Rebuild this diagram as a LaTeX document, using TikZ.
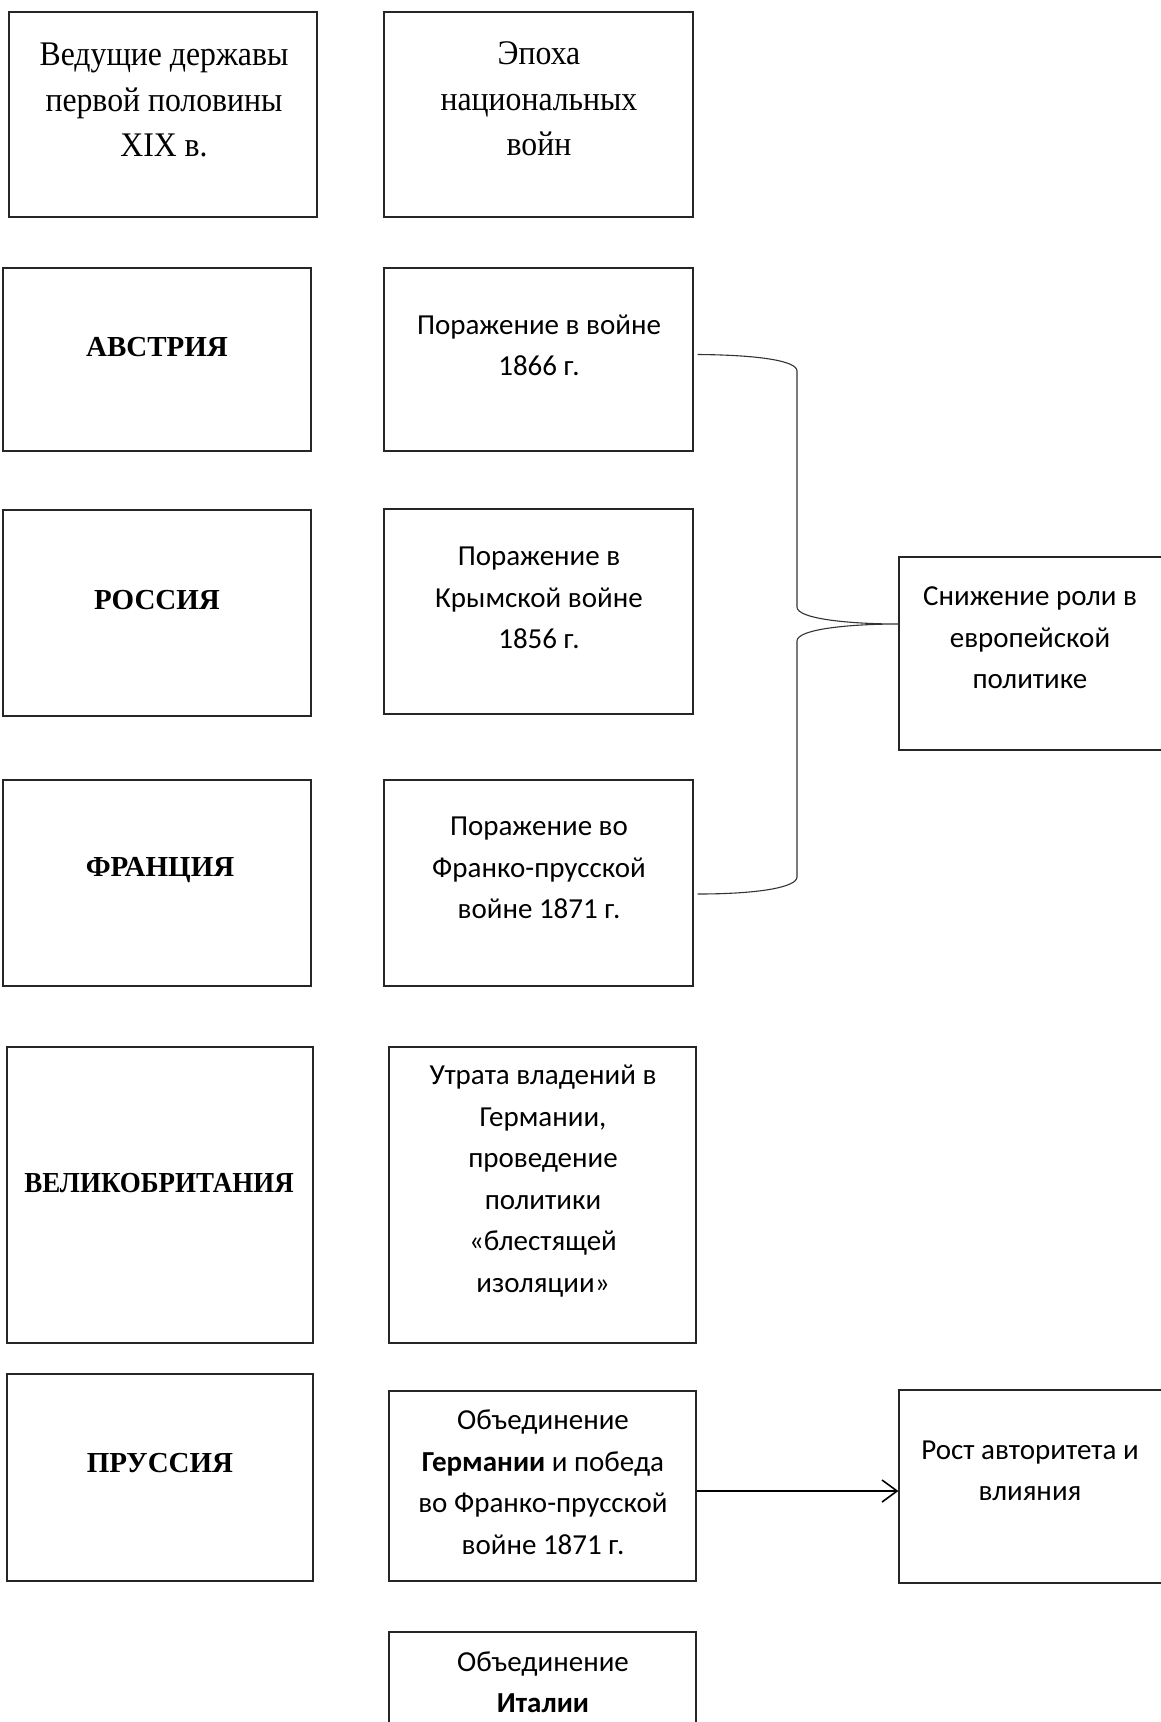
\documentclass[tikz,border=0pt]{standalone}
\usepackage{fontspec}
\setmainfont{Liberation Serif}
\newfontfamily\calfont{Carlito}
\newfontfamily\headfont[FakeStretch=0.92]{Liberation Serif}
\usetikzlibrary{fit,arrows.meta}
\tikzset{
  box/.style={draw=black!85, line width=1.2pt, inner sep=0pt, fill=none},
  ser/.style={font=\headfont\fontsize{34.5}{45.5}\selectfont, align=center, inner sep=0pt},
  serb/.style={font=\fontsize{29}{34}\selectfont\bfseries, align=center, inner sep=0pt},
  cal/.style={font=\fontsize{29}{41.5}\selectfont\calfont, align=center, inner sep=0pt},
  brace/.style={draw=black!80, line width=1.1pt},
  arr/.style={draw=black, line width=1.6pt, -{Straight Barb[length=15pt,width=22pt,line width=1.6pt]}}
}
\begin{document}
\begin{tikzpicture}[x=1pt,y=-1pt]
\useasboundingbox (0,0) rectangle (1160,1722);
% boxes
\node[box, fit={(9,12) (317,217)}] (h1) {};
\node[box, fit={(384,12) (693,217)}] (h2) {};
\node[box, fit={(3,268) (311,451)}] (a1) {};
\node[box, fit={(384,268) (693,451)}] (a2) {};
\node[box, fit={(3,510) (311,716)}] (r1) {};
\node[box, fit={(384,509) (693,714)}] (r2) {};
\node[box, fit={(3,780) (311,986)}] (f1) {};
\node[box, fit={(384,780) (693,986)}] (f2) {};
\node[box, fit={(7,1047) (313,1343)}] (g1) {};
\node[box, fit={(389,1047) (696,1343)}] (g2) {};
\node[box, fit={(7,1374) (313,1581)}] (p1) {};
\node[box, fit={(389,1391) (696,1581)}] (p2) {};
\node[box, fit={(899,557) (1200,750)}] (s) {};
\node[box, fit={(899,1390) (1200,1583)}] (rost) {};
\node[box, fit={(389,1632) (696,1770)}] (it) {};
% texts
\node[ser] (th1) at (164,100) {Ведущие державы\\первой половины\\XIX в.};
\node[ser] (th2) at (539,99) {Эпоха\\национальных\\войн};
\node[serb] (ta1) at (157,347) {АВСТРИЯ};
\node[serb] (tr1) at (157,600) {РОССИЯ};
\node[serb] (tf1) at (160,870) {ФРАНЦИЯ};
\node[serb] (tg1) at (159,1183) {\scalebox{0.93}[1]{ВЕЛИКОБРИТАНИЯ}};
\node[serb] (tp1) at (160,1463) {ПРУССИЯ};
\node[cal] (ta2) at (539,345.5) {Поражение в войне\\1866 г.};
\node[cal] (tr2) at (539,598) {Поражение в\\Крымской войне\\1856 г.};
\node[cal] (tf2) at (539,868) {Поражение во\\Франко-прусской\\войне 1871 г.};
\node[cal] (tg2) at (543,1181) {Утрата владений в\\Германии,\\проведение\\политики\\«блестящей\\изоляции»};
\node[cal] (tp2) at (543,1482) {Объединение\\\textbf{Германии} и победа\\во Франко-прусской\\войне 1871 г.};
\node[cal] (tit) at (543,1682) {Объединение\\\textbf{Италии}};
\node[cal] (ts) at (1030,638) {Снижение роли в\\европейской\\политике};
\node[cal] (trost) at (1030,1471) {Рост авторитета и\\влияния};
% brace
\coordinate (tip) at (s.west |- 0,624);
\draw[brace] ([shift={(4pt,5pt)}]a2.east) .. controls (760,355) and (797,361) .. (797,371)
  -- (797,607) .. controls (797,619) and (850,624) .. (tip)
  .. controls (850,624) and (797,629) .. (797,641)
  -- (797,877) .. controls (797,887) and (760,894) .. ([shift={(4pt,-11pt)}]f2.east);
% arrow
\draw[arr] ([yshift=-5pt]p2.east) -- ([yshift=-5pt]p2.east -| rost.west);
\end{tikzpicture}
\end{document}
